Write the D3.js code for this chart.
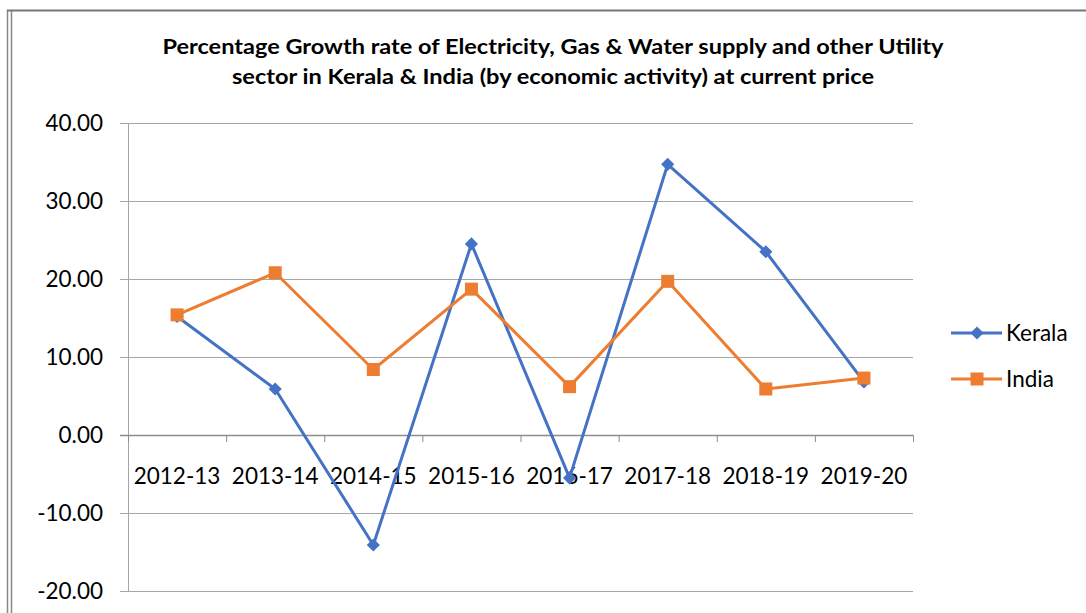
<!DOCTYPE html>
<html><head><meta charset="utf-8">
<script src="https://cdn.jsdelivr.net/npm/d3@7"></script>
<style>body{margin:0;background:#fff}svg{display:block}</style>
</head><body>
<svg id="c" width="1086" height="613"></svg>
<script>
const categories = ["2012-13","2013-14","2014-15","2015-16","2016-17","2017-18","2018-19","2019-20"];
const kerala = [15.2, 5.9, -14.1, 24.5, -5.5, 34.7, 23.5, 6.8];
const india = [15.4, 20.8, 8.4, 18.7, 6.2, 19.7, 5.9, 7.3];
const yTicks = [-20, -10, 0, 10, 20, 30, 40];
const titleLines = ["Percentage Growth rate of Electricity, Gas & Water supply and other Utility",
                    "sector in Kerala & India (by economic activity) at current price"];
const seriesNames = ["Kerala", "India"];

const svg = d3.select("#c");
const font = "Lato, 'Open Sans', sans-serif";
const L = 128, R = 913, T = 123, B = 591;
const fs = 22.5;

// frame
svg.append("line").attr("x1",7.5).attr("x2",7.5).attr("y1",10).attr("y2",613).attr("stroke","#888").attr("stroke-width",1.5);
svg.append("line").attr("x1",11.5).attr("x2",11.5).attr("y1",10).attr("y2",613).attr("stroke","#888").attr("stroke-width",1.5);
svg.append("line").attr("x1",7).attr("x2",1086).attr("y1",10.5).attr("y2",10.5).attr("stroke","#777").attr("stroke-width",2);

const x = d3.scaleBand().domain(categories).range([L, R]);
const y = d3.scaleLinear().domain([-20, 40]).range([B, T]);

// grid
svg.append("g").selectAll("line").data(yTicks).join("line")
  .attr("x1", L - 8).attr("x2", R).attr("y1", d => y(d)+0.5).attr("y2", d => y(d)+0.5)
  .attr("stroke", d => d === 0 ? "#8c8c8c" : "#a6a6a6").attr("stroke-width", d => d===0?1.5:1);
// y axis line
svg.append("line").attr("x1",L+0.5).attr("x2",L+0.5).attr("y1",T).attr("y2",B).attr("stroke","#a6a6a6");
// y labels
svg.append("g").selectAll("text").data(yTicks).join("text")
  .attr("x", 103).attr("y", d => y(d)).attr("dy","0.35em").attr("text-anchor","end")
  .attr("font-family", font).attr("font-size", fs).attr("fill","#000")
  .text(d => d3.format(".2f")(d).replace("\u2212", "-"));
// x ticks at zero line
const bounds = categories.map(c => x(c)).concat([R]);
svg.append("g").selectAll("line").data(bounds).join("line")
  .attr("x1", d => d+0.5).attr("x2", d => d+0.5).attr("y1", y(0)).attr("y2", y(0)+7)
  .attr("stroke","#8c8c8c");
// x labels
svg.append("g").selectAll("text").data(categories).join("text")
  .attr("x", d => x(d) + x.bandwidth()/2).attr("y", y(0) + 41)
  .attr("dy", "0.35em")
  .attr("text-anchor","middle").attr("font-family", font).attr("font-size", fs).attr("fill","#000")
  .text(d => d);

// title
const tw = [781, 642];
svg.append("g").selectAll("text").data(titleLines).join("text")
  .attr("x", 553).attr("y", (d,i) => 54 + i*30).attr("text-anchor","middle")
  .attr("font-family", font).attr("font-weight","bold").attr("font-size", 21)
  .attr("textLength", (d,i) => tw[i]).attr("lengthAdjust","spacingAndGlyphs")
  .text(d => d);

const cx = d => x(d) + x.bandwidth()/2;
const line = d3.line().x((d,i) => cx(categories[i])).y(d => y(d));
const colors = ["#4472C4", "#ED7D31"];
const data = [kerala, india];

data.forEach((vals, s) => {
  svg.append("path").datum(vals).attr("d", line).attr("fill","none")
    .attr("stroke", colors[s]).attr("stroke-width", 3).attr("stroke-linejoin","round");
});
// markers
const diamond = d3.symbol().type(d3.symbolDiamond2).size(110);
svg.append("g").selectAll("path").data(kerala).join("path")
  .attr("d", diamond).attr("transform", (d,i) => `translate(${cx(categories[i])},${y(d)})`)
  .attr("fill", colors[0]);
svg.append("g").selectAll("rect").data(india).join("rect")
  .attr("x", (d,i) => cx(categories[i]) - 6.5).attr("y", d => y(d) - 6.5).attr("width", 13).attr("height", 13)
  .attr("fill", colors[1]);

// legend
const lg = svg.append("g");
seriesNames.forEach((n, i) => {
  const ly = 333 + i*46;
  lg.append("line").attr("x1", 951).attr("x2", 1002).attr("y1", ly).attr("y2", ly).attr("stroke", colors[i]).attr("stroke-width", 3);
  if (i === 0) {
    lg.append("path").attr("d", diamond).attr("transform", `translate(977,${ly})`).attr("fill", colors[i]);
  } else {
    lg.append("rect").attr("x", 970.5).attr("y", ly-6.5).attr("width",13).attr("height",13).attr("fill", colors[i]);
  }
  lg.append("text").attr("x", 1006).attr("y", ly).attr("dy","0.35em")
    .attr("font-family", font).attr("font-size", fs).text(n);
});
</script>
</body></html>
